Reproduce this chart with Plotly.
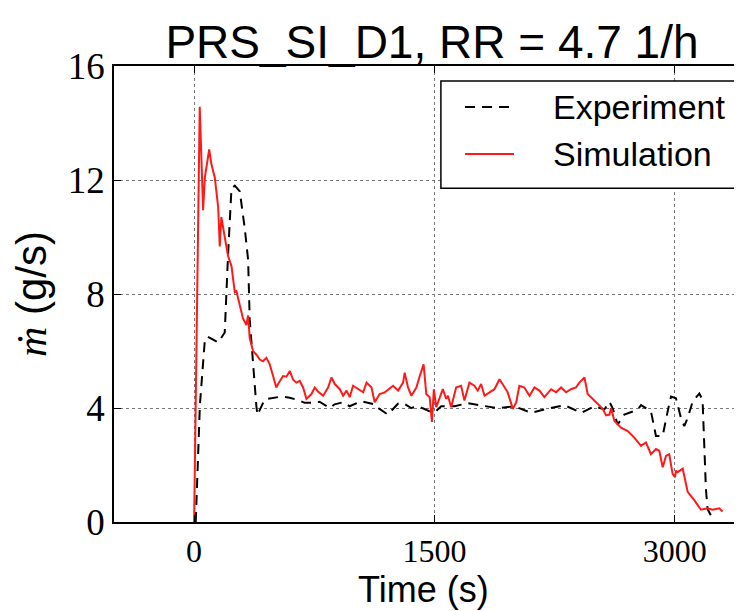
import plotly.graph_objects as go

# ---- data ----
exp_t = [10, 36, 67, 85, 150, 191, 212, 233, 254, 285, 316, 337, 347, 368, 388, 395,
         440, 543, 597, 648, 690, 752, 783, 846, 877, 929, 970, 1043, 1127, 1148,
         1209, 1272, 1303, 1355, 1397, 1448, 1480, 1511, 1542, 1563, 1625, 1708,
         1812, 1895, 2000, 2103, 2186, 2311, 2415, 2498, 2560, 2592, 2612, 2643,
         2685, 2768, 2789, 2851, 2882, 2924, 2955, 2976, 3007, 3038, 3059, 3080,
         3111, 3153, 3173, 3180, 3194, 3204, 3225, 3246]
exp_v = [0.0, 4.1, 6.4, 6.5, 6.3, 6.65, 9.4, 11.7, 11.8, 11.6, 10.3, 9.2, 7.1, 5.4, 4.1, 3.75,
         4.3, 4.4, 4.36, 4.28, 4.18, 4.18, 4.22, 4.0, 4.13, 4.2, 4.06, 4.24, 4.13, 4.0,
         3.77, 4.15, 4.18, 4.0, 4.06, 3.94, 3.85, 3.9, 4.06, 4.06, 4.06, 4.17,
         4.06, 3.99, 4.06, 3.83, 3.95, 4.1, 3.83, 4.06, 3.95, 4.22, 3.99, 3.42,
         3.77, 3.94, 4.1, 3.88, 3.02, 3.02, 3.88, 4.4, 4.34, 3.65, 3.36, 3.65,
         4.22, 4.51, 4.28, 3.19, 1.15, 0.46, 0.23, 0.28]

sim_t = [0, 21, 35, 56, 67, 94, 108, 129, 150, 160, 170, 191, 212, 233, 254, 264,
         285, 305, 326, 337, 347, 368, 389, 410, 430, 451, 472, 493, 513, 524,
         555, 576, 597, 618, 638, 659, 680, 701, 732, 753, 773, 805, 836, 857,
         878, 909, 930, 951, 971, 992, 1023, 1055, 1076, 1107, 1127, 1158, 1190,
         1242, 1273, 1304, 1314, 1335, 1356, 1387, 1408, 1432, 1449, 1470, 1484,
         1496, 1511, 1542, 1552, 1573, 1584, 1604, 1635, 1666, 1687, 1718, 1749,
         1770, 1791, 1812, 1843, 1874, 1906, 1926, 1957, 1989, 2010, 2030, 2061,
         2093, 2124, 2155, 2186, 2228, 2259, 2290, 2321, 2352, 2383, 2404, 2436,
         2456, 2487, 2519, 2550, 2571, 2592, 2602, 2623, 2664, 2706, 2747, 2789,
         2820, 2851, 2882, 2903, 2924, 2945, 2965, 2986, 3001, 3007, 3017, 3049,
         3080, 3121, 3163, 3204, 3235, 3277, 3298]
sim_v = [0.0, 8.3, 14.57, 10.94, 12.09, 13.07, 12.55, 12.09, 11.05, 9.67, 10.7, 10.0, 9.33, 8.98, 8.06, 8.1,
         7.6, 7.14, 6.91, 7.25, 6.45, 5.99, 5.87, 5.7, 5.64, 5.76, 5.53, 5.07, 4.72, 4.84,
         5.12, 5.1, 5.3, 4.99, 4.89, 4.95, 4.72, 4.32, 4.49, 4.72, 4.58, 4.43, 4.72, 5.07,
         4.84, 4.66, 4.43, 4.61, 4.38, 4.78, 4.66, 4.55, 4.89, 4.72, 4.2, 4.49, 4.55,
         4.78, 4.61, 4.89, 5.24, 4.72, 4.43, 4.72, 5.12, 5.53, 4.49, 4.38, 3.51,
         4.66, 4.03, 4.55, 4.66, 4.32, 4.43, 4.03, 4.72, 4.78, 4.26, 4.89, 4.78,
         4.61, 4.84, 4.43, 4.55, 4.66, 5.01, 4.84, 4.55, 3.97, 4.2, 4.78, 4.72,
         4.43, 4.72, 4.61, 4.38, 4.66, 4.55, 4.72, 4.55, 4.66, 4.72, 4.89, 5.07,
         4.49, 4.32, 4.15, 3.97, 3.74, 3.77, 4.0, 3.54, 3.31, 3.19, 2.96, 2.67,
         2.79, 2.38, 2.56, 2.5, 1.92, 2.32, 2.38, 1.69, 1.57, 1.8, 1.75, 1.87,
         1.06, 0.77, 0.43, 0.48, 0.43, 0.48, 0.37]

x_ticks = [0, 1500, 3000]
y_ticks = [0, 4, 8, 12, 16]
series_names = ["Experiment", "Simulation"]
series_colors = ["black", "#ff1a1a"]
series_dash = ["10px,7px", "solid"]

sans = "Liberation Sans, Arial, sans-serif"
serif = "Liberation Serif, Times New Roman, serif"

fig = go.Figure()
fig.add_trace(go.Scatter(x=exp_t, y=exp_v, mode="lines", name=series_names[0],
                         line=dict(color=series_colors[0], width=2, dash=series_dash[0])))
fig.add_trace(go.Scatter(x=sim_t, y=sim_v, mode="lines", name=series_names[1],
                         line=dict(color=series_colors[1], width=2, dash=series_dash[1])))

fig.update_layout(
    width=742, height=611,
    margin=dict(l=106, r=0, t=58, b=97, autoexpand=False),
    paper_bgcolor="white", plot_bgcolor="white",
    title=dict(text="PRS_SI_D1, RR = 4.7 1/h", font=dict(family=sans, size=46, color="black"),
               x=0.5, xanchor="center", xref="paper", y=1, yref="paper", yanchor="bottom",
               pad=dict(b=8)),
    showlegend=False,
)
fig.update_xaxes(range=[-500, 3469], tickvals=x_ticks, ticktext=[str(v) for v in x_ticks],
                 showline=True, linecolor="black", linewidth=1.5, mirror="ticks",
                 ticks="inside", ticklen=7, tickcolor="black",
                 showgrid=True, gridcolor="#777", griddash="dot", gridwidth=1,
                 zeroline=False,
                 tickfont=dict(family=serif, size=32, color="black"))
fig.update_yaxes(range=[0, 16], tickvals=y_ticks, ticktext=[str(v) for v in y_ticks],
                 showline=True, linecolor="black", linewidth=1.5,
                 ticks="inside", ticklen=7, tickcolor="black",
                 showgrid=True, gridcolor="#777", griddash="dot", gridwidth=1,
                 zeroline=False,
                 tickfont=dict(family=serif, size=37, color="black"),
                 title=dict(text='<span style="font-family:Liberation Serif"><i>ṁ</i></span> (g/s)',
                            font=dict(family=sans, size=42, color="black"), standoff=10))

# x-axis title
fig.add_annotation(text="Time (s)", xref="paper", yref="paper", x=0.487, y=0,
                   xanchor="center", yanchor="top", yshift=-45, showarrow=False,
                   font=dict(family=sans, size=36, color="black"))

# legend box drawn in paper coordinates
fig.add_shape(type="rect", xref="paper", yref="paper", x0=0.514, x1=0.983, y0=0.732, y1=0.967,
              line=dict(color="black", width=1.5), fillcolor="white", layer="above")
row_y = [0.910, 0.807]
for name, col, dsh, ry in zip(series_names, series_colors, series_dash, row_y):
    fig.add_shape(type="line", xref="paper", yref="paper", x0=0.552, x1=0.629, y0=ry, y1=ry,
                  line=dict(color=col, width=2, dash=dsh), layer="above")
    fig.add_annotation(text=name, xref="paper", yref="paper", x=0.687, y=ry,
                       xanchor="left", yanchor="middle", showarrow=False,
                       font=dict(family=sans, size=34, color="black"))

fig.write_html("out.html")
